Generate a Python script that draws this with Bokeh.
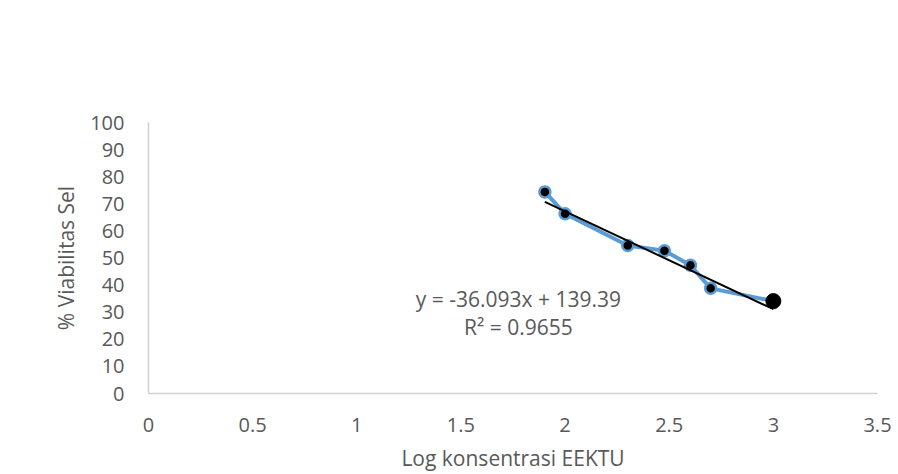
from bokeh.plotting import figure
from bokeh.models import Range1d, Label, FixedTicker, BoxAnnotation
from bokeh.embed import file_html
from bokeh.resources import INLINE

# Data
log_conc = [1.903, 2.0, 2.301, 2.477, 2.602, 2.699, 3.0]
viability = [74.4, 66.3, 54.6, 52.7, 47.3, 38.8, 34.1]
slope = -36.093
intercept = 139.39
r2 = 0.9655
x_ticks = [0, 0.5, 1, 1.5, 2, 2.5, 3, 3.5]
y_ticks = [0, 10, 20, 30, 40, 50, 60, 70, 80, 90, 100]

FONT = "Open Sans"
TXT = "#595959"
AX = "#d0d0d0"

p = figure(width=898, height=474, output_backend="svg", toolbar_location=None,
           x_range=Range1d(0, 3.5), y_range=Range1d(0, 100),
           min_border_left=148, min_border_right=21, min_border_top=122, min_border_bottom=79)
p.outline_line_color = None
p.grid.visible = False
p.background_fill_color = "white"
p.border_fill_color = "white"

for ax in (p.xaxis[0], p.yaxis[0]):
    ax.axis_line_color = AX
    ax.axis_line_width = 1.5
    ax.major_tick_line_color = None
    ax.minor_tick_line_color = None
    ax.major_label_text_font = FONT
    ax.major_label_text_font_size = "20px"
    ax.major_label_text_color = TXT
    ax.axis_label_text_font = FONT
    ax.axis_label_text_font_size = "21px"
    ax.axis_label_text_color = TXT
    ax.axis_label_text_font_style = "normal"

p.xaxis.ticker = FixedTicker(ticks=x_ticks)
p.yaxis.ticker = FixedTicker(ticks=y_ticks)
p.xaxis.major_label_overrides = {t: f"{t:g}" for t in x_ticks}
p.xaxis.axis_label = "Log konsentrasi EEKTU"
p.yaxis.axis_label = "% Viabilitas Sel"
p.xaxis.major_label_standoff = 18
p.yaxis.major_label_standoff = 18
p.xaxis.axis_label_standoff = 9
p.yaxis.axis_label_standoff = 7

# chart-area border
p.add_layout(BoxAnnotation(left=10, right=910, top=12, bottom=490,
                           left_units="canvas", right_units="canvas",
                           top_units="canvas", bottom_units="canvas",
                           fill_alpha=0, line_color="#d9d9d9", line_width=1.5))

# series line
p.line(log_conc, viability, line_color="#5B9BD5", line_width=4)
p.scatter(log_conc[:-1], viability[:-1], size=11, fill_color="black",
          line_color="#5B9BD5", line_width=2.5)
p.scatter(log_conc[-1:], viability[-1:], size=15, fill_color="black",
          line_color="black", line_width=1)

# trendline
tx = [log_conc[0], log_conc[-1]]
ty = [slope * x + intercept for x in tx]
p.line(tx, ty, line_color="black", line_width=2)

eq = f"y = {slope}x + {intercept}"
p.add_layout(Label(x=1.776, y=34.8, text=eq, text_align="center", text_baseline="middle",
                   text_font=FONT, text_font_size="21px", text_color=TXT))
p.add_layout(Label(x=1.776, y=24.5, text=f"R² = {r2}", text_align="center", text_baseline="middle",
                   text_font=FONT, text_font_size="21px", text_color=TXT))

open("out.html", "w").write(file_html(p, INLINE))
